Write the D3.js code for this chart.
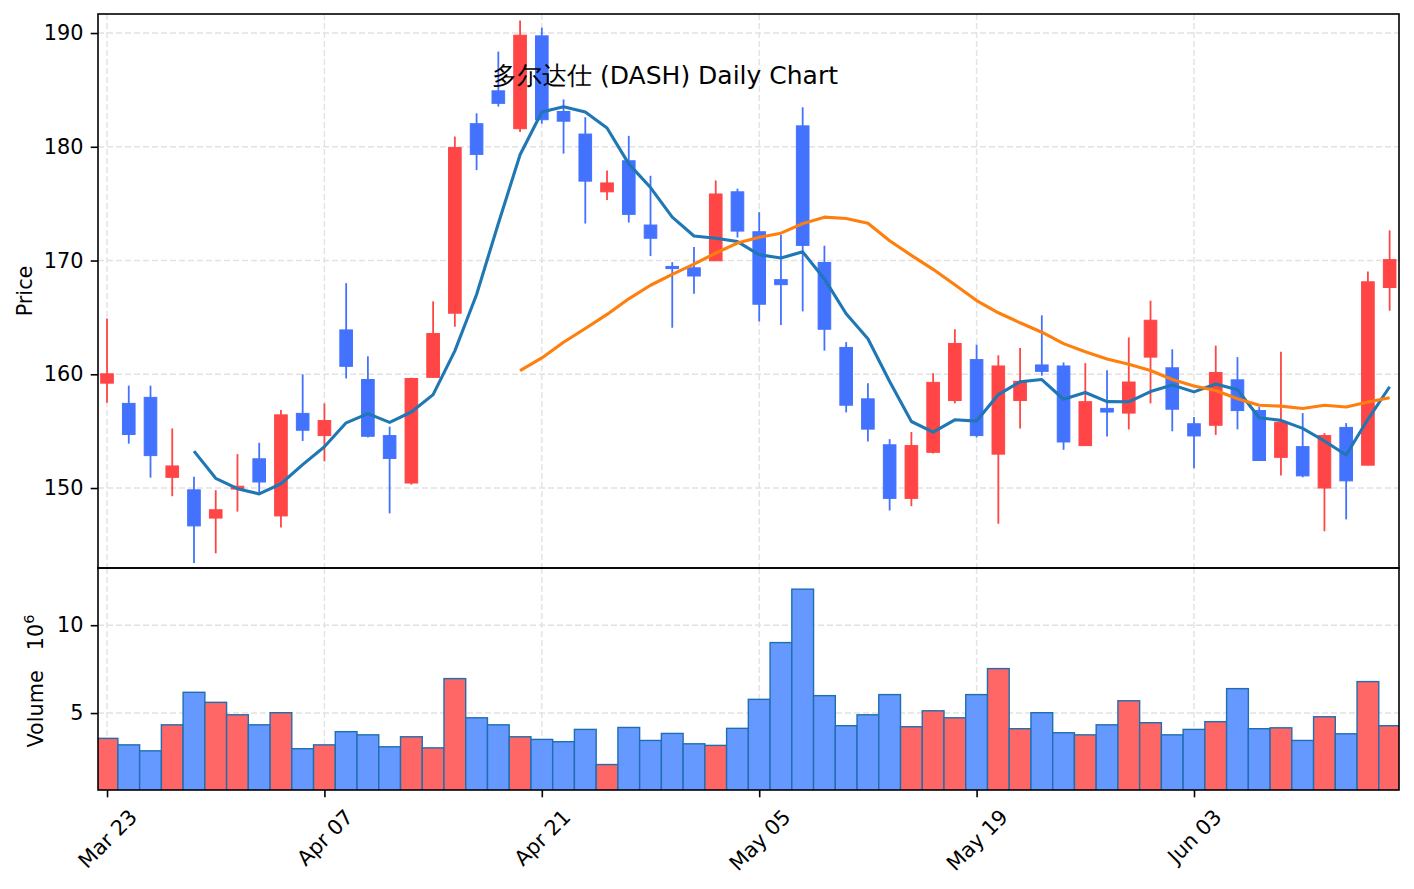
<!DOCTYPE html>
<html>
<head>
<meta charset="utf-8">
<script src="https://cdn.jsdelivr.net/npm/d3@7"></script>
<style>
  body { margin: 0; background: #fff; }
  svg { display: block; font-family: "DejaVu Sans", sans-serif; }
</style>
</head>
<body>
<svg id="chart" width="1414" height="889"></svg>
<script>
// daily OHLC (index 0 = Mar 23)
const open = [159.22, 157.44, 157.97, 150.94, 149.84, 147.36, 149.91, 152.57, 147.55, 156.56,
  154.61, 163.9, 159.54, 154.61, 150.44, 159.73, 165.37, 182.03, 184.92, 181.59,
  189.75, 183.1, 181.12, 176.04, 178.77, 173.12, 169.48, 169.36, 169.98, 176.04,
  172.53, 168.32, 181.84, 169.83, 162.36, 157.84, 153.8, 149.09, 153.14, 157.69,
  161.29, 152.98, 157.69, 160.82, 160.73, 153.73, 157.0, 156.59, 161.51, 160.57,
  155.65, 155.52, 159.51, 156.81, 152.7, 153.64, 150.0, 155.33, 152.01, 167.63];
const close = [160.04, 154.71, 152.85, 151.94, 146.67, 148.09, 150.16, 150.53, 156.43, 155.08,
  155.93, 160.7, 154.55, 152.6, 159.63, 163.58, 179.93, 179.33, 183.82, 189.81,
  182.38, 182.25, 176.98, 176.82, 174.06, 171.96, 169.29, 168.64, 175.85, 172.59,
  166.16, 167.88, 171.33, 163.96, 157.28, 155.18, 149.09, 153.73, 159.29, 162.71,
  154.61, 160.73, 159.38, 160.26, 154.05, 157.59, 156.68, 159.32, 164.75, 156.93,
  154.58, 160.16, 156.81, 152.42, 155.77, 151.07, 154.61, 150.63, 168.13, 170.08];
const high = [164.9, 159.0, 159.0, 155.24, 151.0, 149.81, 152.98, 153.98, 156.87, 160.0,
  157.44, 168.01, 161.58, 155.4, 159.7, 166.41, 180.9, 182.94, 188.37, 191.1,
  190.47, 184.16, 182.6, 177.92, 180.96, 177.45, 169.86, 171.18, 177.04, 176.32,
  174.25, 172.24, 183.47, 171.3, 162.83, 159.22, 154.3, 154.93, 160.1, 163.96,
  162.61, 161.67, 162.3, 165.18, 161.04, 160.98, 160.35, 163.24, 166.47, 162.2,
  156.24, 162.52, 161.51, 157.12, 161.98, 156.59, 154.83, 155.71, 169.04, 172.65];
const low = [157.5, 153.9, 150.91, 149.28, 143.4, 144.26, 147.93, 149.59, 146.52, 154.14,
  152.35, 159.63, 154.45, 147.77, 150.3, 159.7, 164.18, 177.95, 183.54, 181.31,
  182.03, 179.4, 173.25, 175.32, 173.34, 170.39, 164.09, 167.07, 169.98, 172.02,
  164.65, 164.34, 165.53, 162.08, 156.65, 154.08, 148.02, 148.4, 153.04, 157.44,
  154.45, 146.86, 155.24, 159.88, 153.36, 153.73, 154.52, 155.15, 157.44, 154.99,
  151.73, 154.67, 155.15, 152.42, 151.1, 150.94, 146.2, 147.24, 152.01, 165.59];
// volume in millions
const volume = [3.56, 3.19, 2.85, 4.33, 6.18, 5.61, 4.90, 4.33, 5.02, 2.97,
  3.19, 3.94, 3.76, 3.08, 3.65, 3.02, 6.96, 4.73, 4.33, 3.65,
  3.5, 3.37, 4.07, 2.07, 4.18, 3.44, 3.84, 3.25, 3.16, 4.13,
  5.78, 9.01, 12.05, 5.99, 4.28, 4.90, 6.05, 4.22, 5.13, 4.73,
  6.05, 7.53, 4.11, 5.02, 3.88, 3.76, 4.33, 5.70, 4.45, 3.76,
  4.07, 4.51, 6.39, 4.11, 4.16, 3.44, 4.79, 3.82, 6.79, 4.28];

const tickIndex = [0, 10, 20, 30, 40, 50];
const tickLabels = ['Mar 23', 'Apr 07', 'Apr 21', 'May 05', 'May 19', 'Jun 03'];
const priceTicks = [150, 160, 170, 180, 190];
const volumeTicks = [5, 10];
const title = '多尔达仕 (DASH) Daily Chart';

// layout
const left = 98, right = 1399;
const pTop = 14, pBot = 568, vBot = 790;
const tickLen = 7.3, tickPad = 7.3, fontSize = 20.8;
const upColor = '#ff4545', downColor = '#4372ff';
const upVol = '#ff6666', downVol = '#6699ff';

const svg = d3.select('#chart');
const idx = d3.range(close.length);

const x = d3.scaleLinear().domain([-0.415, 59.43]).range([left, right]);
const step = x(1) - x(0);
const yP = d3.scaleLinear()
  .domain([d3.min(low) * 0.997, d3.max(high) * 1.003])
  .range([pBot, pTop]);
const yV = d3.scaleLinear()
  .domain([d3.min(volume) * 0.3, d3.max(volume) * 1.1])
  .range([vBot, pBot]);

function movingAvg(arr, n) {
  return arr.map((v, i) => i < n - 1 ? null : d3.mean(arr.slice(i - n + 1, i + 1)));
}
const ma5 = movingAvg(close, 5);
const ma20 = movingAvg(close, 20);

const defs = svg.append('defs');
defs.append('clipPath').attr('id', 'clipP')
  .append('rect').attr('x', left).attr('y', pTop).attr('width', right - left).attr('height', pBot - pTop);
defs.append('clipPath').attr('id', 'clipV')
  .append('rect').attr('x', left).attr('y', pBot).attr('width', right - left).attr('height', vBot - pBot);

// grids
function grid(yScale, ticks, top, bot) {
  const g = svg.append('g')
    .attr('stroke', '#e2e2e2').attr('stroke-width', 1.4).attr('stroke-dasharray', '6,3');
  g.selectAll('.gx').data(tickIndex).enter().append('line')
    .attr('x1', d => x(d)).attr('x2', d => x(d)).attr('y1', top).attr('y2', bot);
  g.selectAll('.gy').data(ticks).enter().append('line')
    .attr('x1', left).attr('x2', right).attr('y1', d => yScale(d)).attr('y2', d => yScale(d));
}
grid(yP, priceTicks, pTop, pBot);
grid(yV, volumeTicks, pBot, vBot);

// candles
const isUp = i => close[i] >= open[i];
const pg = svg.append('g').attr('clip-path', 'url(#clipP)');
pg.selectAll('.wick').data(idx).enter().append('line')
  .attr('x1', i => x(i)).attr('x2', i => x(i))
  .attr('y1', i => yP(high[i])).attr('y2', i => yP(low[i]))
  .attr('stroke', i => isUp(i) ? upColor : downColor)
  .attr('stroke-width', 1.8);
pg.selectAll('.body').data(idx).enter().append('rect')
  .attr('x', i => x(i) - step * 0.29)
  .attr('width', step * 0.58)
  .attr('y', i => yP(Math.max(open[i], close[i])))
  .attr('height', i => Math.max(1, Math.abs(yP(open[i]) - yP(close[i]))))
  .attr('fill', i => isUp(i) ? upColor : downColor)
  .attr('stroke', i => isUp(i) ? upColor : downColor)
  .attr('stroke-width', 1);

// moving averages
const line = d3.line()
  .defined(d => d[1] !== null)
  .x(d => x(d[0]))
  .y(d => yP(d[1]));
pg.append('path').datum(ma5.map((v, i) => [i, v]))
  .attr('d', line).attr('fill', 'none').attr('stroke', '#1f77b4').attr('stroke-width', 3.1)
  .attr('stroke-linejoin', 'round');
pg.append('path').datum(ma20.map((v, i) => [i, v]))
  .attr('d', line).attr('fill', 'none').attr('stroke', '#ff7f0e').attr('stroke-width', 3.1)
  .attr('stroke-linejoin', 'round');

// volume bars
const vg = svg.append('g').attr('clip-path', 'url(#clipV)');
vg.selectAll('rect').data(idx).enter().append('rect')
  .attr('x', i => x(i) - step / 2)
  .attr('width', step)
  .attr('y', i => yV(volume[i]))
  .attr('height', i => yV(0) - yV(volume[i]))
  .attr('fill', i => isUp(i) ? upVol : downVol)
  .attr('stroke', '#1f6fb0')
  .attr('stroke-width', 1.4);

// axes
function styleAxis(g) {
  g.select('.domain').remove();
  g.selectAll('.tick line').attr('stroke', '#000').attr('stroke-width', 1.6);
  g.selectAll('.tick text').attr('fill', '#000').style('font-size', fontSize + 'px')
    .style('font-family', '"DejaVu Sans", sans-serif');
}
svg.append('g').attr('transform', `translate(${left},0)`)
  .call(d3.axisLeft(yP).tickValues(priceTicks).tickSize(tickLen).tickPadding(tickPad))
  .call(styleAxis);
svg.append('g').attr('transform', `translate(${left},0)`)
  .call(d3.axisLeft(yV).tickValues(volumeTicks).tickSize(tickLen).tickPadding(tickPad))
  .call(styleAxis);
const xg = svg.append('g').attr('transform', `translate(0,${vBot})`)
  .call(d3.axisBottom(x).tickValues(tickIndex).tickFormat((d, i) => tickLabels[i])
    .tickSize(tickLen).tickPadding(tickPad))
  .call(styleAxis);
xg.selectAll('.tick text').each(function () {
  const len = this.getComputedTextLength();
  const half = (len + fontSize * 1.16) * 0.7071 / 2;
  d3.select(this)
    .attr('text-anchor', 'middle')
    .attr('y', 0).attr('dy', '0.35em')
    .attr('transform', `translate(0,${tickLen + tickPad + half}) rotate(-45)`);
});

// frames
[[pTop, pBot], [pBot, vBot]].forEach(([t, b]) => {
  svg.append('rect').attr('x', left).attr('y', t).attr('width', right - left).attr('height', b - t)
    .attr('fill', 'none').attr('stroke', '#000').attr('stroke-width', 1.6);
});

// labels
svg.append('text')
  .attr('transform', `translate(32,${(pTop + pBot) / 2}) rotate(-90)`)
  .attr('text-anchor', 'middle').style('font-size', fontSize + 'px')
  .text('Price');
const vl = svg.append('text')
  .attr('transform', `translate(43,681) rotate(-90)`)
  .attr('text-anchor', 'middle').style('font-size', fontSize + 'px');
vl.append('tspan').text('Volume');
vl.append('tspan').attr('dx', 20).text('10');
vl.append('tspan').attr('dy', -9).style('font-size', (fontSize * 0.7) + 'px').text('6');

svg.append('text')
  .attr('x', 838).attr('y', 84)
  .attr('text-anchor', 'end')
  .style('font-size', '25px')
  .text(title);
</script>
</body>
</html>
